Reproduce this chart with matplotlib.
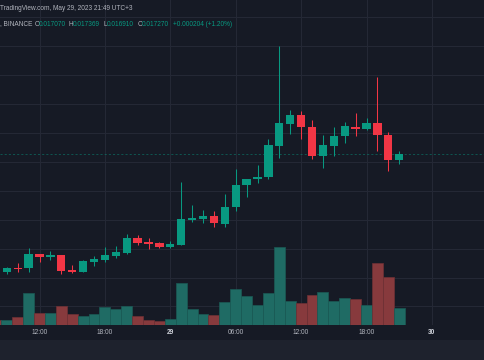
import numpy as np
import pandas as pd
import matplotlib
matplotlib.use("Agg")
import matplotlib.pyplot as plt
import matplotlib.dates as mdates
from matplotlib.patches import Rectangle
from matplotlib.ticker import FuncFormatter

# hourly candles, UTC+3, May 28 08:00 .. May 29 21:00
times = pd.date_range("2023-05-28 08:00", periods=38, freq="h")
opens = [0.013300, 0.013190, 0.013339, 0.013318, 0.013802, 0.013709, 0.013768, 0.013270,
         0.013201, 0.013546, 0.013605, 0.013743, 0.013858, 0.014366, 0.014217, 0.014183,
         0.014065, 0.014124, 0.014988, 0.015023, 0.015137, 0.014860, 0.015437, 0.016188,
         0.016405, 0.016475, 0.017557, 0.018317, 0.018618, 0.018193, 0.017211, 0.017557,
         0.017892, 0.018213, 0.018134, 0.018341, 0.017916, 0.017070]
highs = [0.013350, 0.013374, 0.013502, 0.014010, 0.013823, 0.013927, 0.013790, 0.013432,
         0.013605, 0.013743, 0.014055, 0.014089, 0.014504, 0.014459, 0.014366, 0.014227,
         0.014272, 0.016302, 0.015507, 0.015334, 0.015289, 0.015897, 0.016751, 0.016420,
         0.016879, 0.017778, 0.021014, 0.018780, 0.018756, 0.018445, 0.017926, 0.018213,
         0.018386, 0.018687, 0.018514, 0.019921, 0.018030, 0.017369]
lows = [0.013150, 0.013111, 0.013201, 0.013201, 0.013536, 0.013605, 0.013111, 0.013156,
        0.013190, 0.013398, 0.013536, 0.013664, 0.013813, 0.014124, 0.013996, 0.014030,
        0.014030, 0.014107, 0.014919, 0.014895, 0.014756, 0.014756, 0.015310, 0.015793,
        0.016277, 0.016395, 0.017142, 0.017961, 0.017799, 0.017086, 0.016796, 0.017201,
        0.017660, 0.017892, 0.018099, 0.017373, 0.016682, 0.016910]
closes = [0.013190, 0.013339, 0.013294, 0.013802, 0.013719, 0.013768, 0.013235, 0.013201,
          0.013560, 0.013629, 0.013768, 0.013871, 0.014366, 0.014193, 0.014169, 0.014065,
          0.014148, 0.015012, 0.015040, 0.015137, 0.014874, 0.015437, 0.016188, 0.016405,
          0.016475, 0.017591, 0.018331, 0.018618, 0.018193, 0.017201, 0.017591, 0.017892,
          0.018238, 0.018134, 0.018352, 0.017916, 0.017073, 0.017270]
volumes = [15, 15, 25, 95, 37, 37, 57, 32, 27, 32, 55, 47, 57, 27, 16, 13, 17, 126, 47,
           33, 29, 70, 109, 86, 60, 95, 233, 72, 67, 89, 99, 73, 81, 77, 60, 186, 143, 51]

BG = "#161a25"
UP, DOWN = "#089981", "#f23645"
UP_VOL, DOWN_VOL = "#1f6b64", "#873a3d"
TXT = "#b2b5be"

o = np.array(opens); c = np.array(closes)
x = mdates.date2num(times)
hour = 1 / 24
up = c >= o

fig = plt.figure(figsize=(4.85, 3.6), dpi=100, facecolor=BG)
fig.patches.append(Rectangle((0, 0), 1, 20 / 360, transform=fig.transFigure,
                             facecolor="#1e222d", edgecolor="none"))

ax = fig.add_axes([0, 35 / 360, 1, 325 / 360], facecolor=BG)
ax_v = ax.twinx()

# price pane
ax.vlines(x, lows, highs, colors=np.where(up, UP, DOWN), lw=0.75, zorder=3)
ax.bar(x, np.abs(c - o), bottom=np.minimum(o, c), width=0.76 * hour,
       color=np.where(up, UP, DOWN), zorder=4)
ax.axhline(closes[-1], color=UP, alpha=0.45, lw=0.75, dashes=(2, 2), zorder=2)

ax.set_ylim(0.011358, 0.022593)
x0 = x[1] - 6.8 / 10.9 * hour
ax.set_xlim(x0, x0 + 485 / 10.9 * hour)
ax.set_yticks(np.arange(0.012, 0.0226, 0.001))
ax.xaxis.set_major_locator(mdates.HourLocator(byhour=[0, 6, 12, 18]))


def fmt(val, pos):
    d = mdates.num2date(val)
    return str(d.day) if d.hour == 0 else d.strftime("%H:%M")


ax.xaxis.set_major_formatter(FuncFormatter(fmt))
ax.grid(True, color="#242835", lw=0.75)
ax.tick_params(axis="y", left=False, labelleft=False)
ax.tick_params(axis="x", length=0, pad=3.2, labelsize=4.7, labelcolor=TXT)
for lab in ax.get_xticklabels():
    lab.set_fontfamily("Liberation Sans")
for s in ax.spines.values():
    s.set_visible(False)

# volume overlay
ax_v.bar(x, volumes, width=hour, color=np.where(up, UP_VOL, DOWN_VOL),
         edgecolor=np.where(up, "#1a5a55", "#6f3034"), lw=0.5)
ax_v.set_ylim(0, 975)
ax_v.set_yticks([])
for s in ax_v.spines.values():
    s.set_visible(False)

fig.canvas.draw()
for lab in ax.get_xticklabels():
    if ":" not in lab.get_text():
        lab.set_fontweight("bold")
        lab.set_color("#d1d4dc")

# legend header
fs = 4.7
def put(px, py, s, color):
    fig.text(px / 485, 1 - py / 360, s, color=color, fontsize=fs,
             family="Liberation Sans", va="center", ha="left")

put(0, 9, "TradingView.com, May 29, 2023 21:49 UTC+3", TXT)
put(0.5, 24, ", BINANCE", TXT)
for px, s in [(34.3, "O"), (68.7, "H"), (104, "L"), (137.7, "C")]:
    put(px, 24, s, TXT)
for px, s in [(38.3, "0.017070"), (72.7, "0.017369"), (107, "0.016910"),
              (141.3, "0.017270"), (173.3, "+0.000204 (+1.20%)")]:
    put(px, 24, s, UP)

fig.savefig("out.png", dpi=100, facecolor=BG)
